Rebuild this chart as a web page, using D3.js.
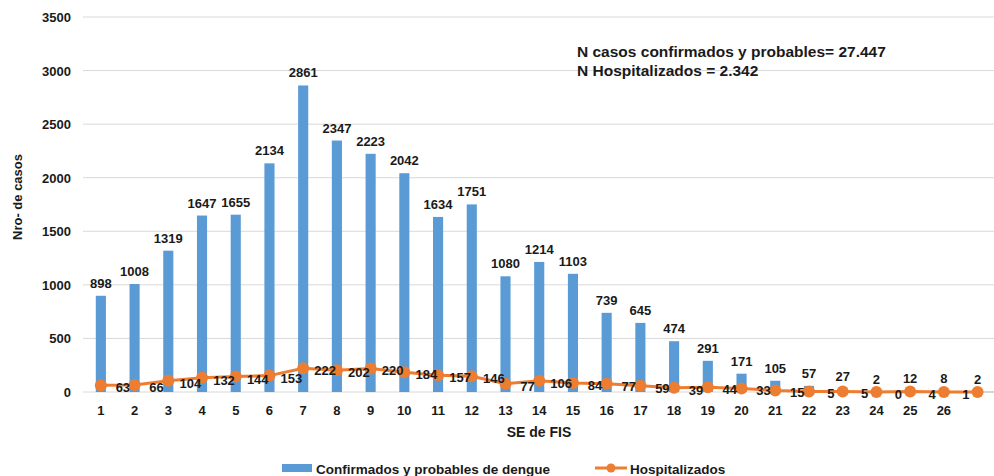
<!DOCTYPE html>
<html lang="es">
<head>
    <meta charset="UTF-8">
    <title>Casos de dengue por SE de FIS</title>
    <script src="https://cdn.jsdelivr.net/npm/d3@7"></script>
    <style>
        body { margin: 0; background: #fff; }
        text { font-family: "Liberation Sans", Arial, sans-serif; font-weight: bold; fill: #1a1a1a; }
    </style>
</head>
<body>
<svg width="994" height="476"></svg>

<script>

    // semanas epidemiologicas (la 27 no tiene etiqueta en el original)
    var semanas = [1, 2, 3, 4, 5, 6, 7, 8, 9, 10, 11, 12, 13, 14, 15, 16, 17, 18, 19, 20, 21, 22, 23, 24, 25, 26, 27];
    var semanaLabels = ["1", "2", "3", "4", "5", "6", "7", "8", "9", "10", "11", "12", "13", "14", "15", "16", "17", "18", "19", "20", "21", "22", "23", "24", "25", "26", ""];
    var confirmados = [898, 1008, 1319, 1647, 1655, 2134, 2861, 2347, 2223, 2042, 1634, 1751, 1080, 1214, 1103, 739, 645, 474, 291, 171, 105, 57, 27, 2, 12, 8, 2];
    // el valor de la semana 27 queda cortado en la imagen (~0)
    var hospitalizados = [63, 66, 104, 132, 144, 153, 222, 202, 220, 184, 157, 146, 77, 106, 84, 77, 59, 39, 44, 33, 15, 5, 5, 0, 4, 1, 0];
    var hospLabelVisible = semanas.map(function (s) { return s < 27; });
    var yTicks = [0, 500, 1000, 1500, 2000, 2500, 3000, 3500];

    var svg = d3.select("svg");

    var blue = "#5b9bd5",
        orange = "#ed7d31";

    // 28 bandas: la ultima queda fuera del recorte de la imagen
    var x = d3.scaleBand()
        .domain(semanas.concat([28]))
        .range([84, 84 + 28 * 33.72])
        .paddingInner(0.7)
        .paddingOuter(0.35);

    var y = d3.scaleLinear()
        .domain([0, 3500])
        .range([392, 17]);

    function cx(d) {
        return x(d) + x.bandwidth() / 2;
    }

    /* grid */
    svg.append("g")
        .selectAll("line")
        .data(yTicks)
        .enter().append("line")
        .attr("x1", 83)
        .attr("x2", 994)
        .attr("y1", function (d) { return y(d); })
        .attr("y2", function (d) { return y(d); })
        .style("stroke", "#d9d9d9")
        .style("stroke-width", 1);

    var yAxis = svg.append("g")
        .attr("transform", "translate(71,0)")
        .call(d3.axisLeft(y).tickValues(yTicks).tickSize(0).tickPadding(0).tickFormat(d3.format("d")));
    yAxis.select(".domain").remove();
    yAxis.selectAll("text")
        .style("font-size", "13px")
        .attr("dy", "0.35em");

    var xAxis = svg.append("g")
        .attr("transform", "translate(0,402)")
        .call(d3.axisBottom(x).tickValues(semanas).tickSize(0).tickPadding(4)
            .tickFormat(function (d, i) { return semanaLabels[i]; }));
    xAxis.select(".domain").remove();
    xAxis.selectAll("text")
        .style("font-size", "13px");

    /* bars */
    svg.append("g")
        .selectAll("rect")
        .data(confirmados)
        .enter().append("rect")
        .attr("x", function (d, i) { return x(semanas[i]); })
        .attr("width", x.bandwidth())
        .attr("y", function (d) { return y(d); })
        .attr("height", function (d) { return y(0) - y(d); })
        .attr("fill", blue);

    svg.append("g")
        .selectAll("text")
        .data(confirmados)
        .enter().append("text")
        .attr("x", function (d, i) { return cx(semanas[i]); })
        .attr("y", function (d) { return y(d) - 8; })
        .attr("text-anchor", "middle")
        .style("font-size", "13px")
        .text(function (d) { return d; });

    /* line hospitalizados */
    var pts = hospitalizados.map(function (v, i) { return {s: semanas[i], v: v, lbl: hospLabelVisible[i]}; });

    var line = d3.line()
        .x(function (d) { return cx(d.s); })
        .y(function (d) { return y(d.v); });

    svg.append("path")
        .datum([{s: 27, v: 0}, {s: 28, v: 0}])
        .attr("d", line)
        .attr("stroke", "#bfbfbf")
        .attr("stroke-width", 1);

    svg.append("path")
        .datum(pts)
        .attr("d", line)
        .attr("fill", "none")
        .attr("stroke", orange)
        .attr("stroke-width", 3);

    svg.append("g")
        .selectAll("circle")
        .data(pts)
        .enter().append("circle")
        .attr("cx", function (d) { return cx(d.s); })
        .attr("cy", function (d) { return y(d.v); })
        .attr("r", 6)
        .attr("fill", orange);

    svg.append("g")
        .selectAll("text")
        .data(pts.filter(function (d) { return d.lbl; }))
        .enter().append("text")
        .attr("x", function (d) { return cx(d.s) + 22; })
        .attr("y", function (d) { return y(d.v) + 7; })
        .attr("text-anchor", "middle")
        .style("font-size", "13px")
        .text(function (d) { return d.v; });

    /* axis titles */
    svg.append("text")
        .attr("transform", "translate(22,197) rotate(-90)")
        .attr("text-anchor", "middle")
        .style("font-size", "13px")
        .text("Nro- de casos");

    svg.append("text")
        .attr("x", 539)
        .attr("y", 437)
        .attr("text-anchor", "middle")
        .style("font-size", "14px")
        .text("SE de FIS");

    /* totals */
    svg.append("text")
        .attr("x", 577)
        .attr("y", 57)
        .style("font-size", "15.5px")
        .text("N casos confirmados y probables= 27.447");
    svg.append("text")
        .attr("x", 577)
        .attr("y", 76)
        .style("font-size", "15.5px")
        .text("N Hospitalizados = 2.342");

    /* legend */
    var legend = svg.append("g");
    legend.append("rect")
        .attr("x", 282).attr("y", 464)
        .attr("width", 30).attr("height", 8)
        .attr("fill", blue);
    legend.append("text")
        .attr("x", 316).attr("y", 474)
        .style("font-size", "13.5px")
        .text("Confirmados y probables de dengue");
    legend.append("line")
        .attr("x1", 595).attr("x2", 627)
        .attr("y1", 468).attr("y2", 468)
        .attr("stroke", orange).attr("stroke-width", 3);
    legend.append("circle")
        .attr("cx", 611).attr("cy", 468).attr("r", 4.5)
        .attr("fill", orange);
    legend.append("text")
        .attr("x", 630).attr("y", 474)
        .style("font-size", "13.5px")
        .text("Hospitalizados");

</script>

</body>
</html>
